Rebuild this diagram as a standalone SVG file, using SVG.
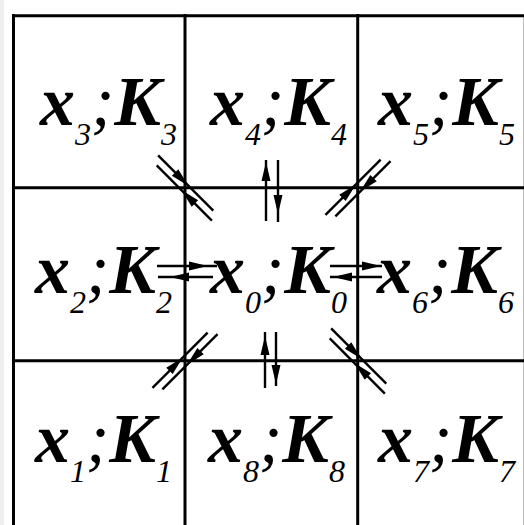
<svg xmlns="http://www.w3.org/2000/svg" xmlns:xlink="http://www.w3.org/1999/xlink" width="524" height="525" viewBox="0 0 524 525">
<style>
.grid{stroke:#000;stroke-width:3;fill:none}
.a{stroke:#000;stroke-width:2.4;fill:none}
.t{font-family:"Liberation Serif","Times New Roman",serif;font-weight:bold;font-style:italic;font-size:70px;fill:#000}
.s{font-size:32px;font-weight:normal}
.p{font-weight:normal}
</style>
<defs>
<path id="h" d="M0,0 L-19,-4.5 L-19,4.5 Z" fill="#000"/>
<g id="diag">
<line class="a" x1="-42" y1="-4" x2="36" y2="-4"/>
<use xlink:href="#h" href="#h" transform="translate(1,-4)"/>
<line class="a" x1="-36" y1="4" x2="42" y2="4"/>
<use xlink:href="#h" href="#h" transform="translate(-1,4) rotate(180)"/>
</g>
</defs>
<rect x="0" y="0" width="524" height="525" fill="#fff"/>
<rect x="0" y="0" width="4" height="525" fill="#eeeeee"/>
<line x1="523.5" y1="16" x2="523.5" y2="525" stroke="#bbbbbb" stroke-width="1"/>
<g id="grid">
<line class="grid" x1="12" y1="15.7" x2="524" y2="15.7"/>
<line class="grid" x1="13.5" y1="14" x2="13.5" y2="525"/>
<line class="grid" x1="185" y1="14" x2="185" y2="525"/>
<line class="grid" x1="357.7" y1="14" x2="357.7" y2="525"/>
<line class="grid" x1="12" y1="187.7" x2="524" y2="187.7"/>
<line class="grid" x1="12" y1="360.7" x2="524" y2="360.7"/>
</g>
<g id="n3"><text class="t" x="40" y="125">x<tspan class="s" dy="20">3</tspan><tspan class="p" dy="-20">;</tspan>K<tspan class="s" dy="20">3</tspan></text></g>
<g id="n4"><text class="t" x="210" y="125">x<tspan class="s" dy="20">4</tspan><tspan class="p" dy="-20">;</tspan>K<tspan class="s" dy="20">4</tspan></text></g>
<g id="n5"><text class="t" x="378" y="125">x<tspan class="s" dy="20">5</tspan><tspan class="p" dy="-20">;</tspan>K<tspan class="s" dy="20">5</tspan></text></g>
<g id="n2"><text class="t" x="35" y="293">x<tspan class="s" dy="20">2</tspan><tspan class="p" dy="-20">;</tspan>K<tspan class="s" dy="20">2</tspan></text></g>
<g id="n0"><text class="t" x="210" y="293">x<tspan class="s" dy="20">0</tspan><tspan class="p" dy="-20">;</tspan>K<tspan class="s" dy="20">0</tspan></text></g>
<g id="n6"><text class="t" x="377" y="293">x<tspan class="s" dy="20">6</tspan><tspan class="p" dy="-20">;</tspan>K<tspan class="s" dy="20">6</tspan></text></g>
<g id="n1"><text class="t" x="35" y="462">x<tspan class="s" dy="20">1</tspan><tspan class="p" dy="-20">;</tspan>K<tspan class="s" dy="20">1</tspan></text></g>
<g id="n8"><text class="t" x="208" y="462">x<tspan class="s" dy="20">8</tspan><tspan class="p" dy="-20">;</tspan>K<tspan class="s" dy="20">8</tspan></text></g>
<g id="n7"><text class="t" x="378" y="462">x<tspan class="s" dy="20">7</tspan><tspan class="p" dy="-20">;</tspan>K<tspan class="s" dy="20">7</tspan></text></g>
<g id="connectors">
<line class="a" x1="157" y1="266" x2="217" y2="266"/>
<use xlink:href="#h" href="#h" transform="translate(208,266)"/>
<line class="a" x1="158" y1="277" x2="213" y2="277"/>
<use xlink:href="#h" href="#h" transform="translate(170,277) rotate(180)"/>
<line class="a" x1="330" y1="266" x2="382" y2="266"/>
<use xlink:href="#h" href="#h" transform="translate(381,266)"/>
<line class="a" x1="330" y1="277" x2="382" y2="277"/>
<use xlink:href="#h" href="#h" transform="translate(333,277) rotate(180)"/>
<line class="a" x1="266" y1="160" x2="266" y2="221"/>
<use xlink:href="#h" href="#h" transform="translate(266,162) rotate(-90)"/>
<line class="a" x1="278" y1="160" x2="278" y2="222"/>
<use xlink:href="#h" href="#h" transform="translate(278,214) rotate(90)"/>
<line class="a" x1="265" y1="332" x2="265" y2="388"/>
<use xlink:href="#h" href="#h" transform="translate(265,336) rotate(-90)"/>
<line class="a" x1="276" y1="332" x2="276" y2="386"/>
<use xlink:href="#h" href="#h" transform="translate(276,384) rotate(90)"/>
<use xlink:href="#diag" href="#diag" transform="translate(185,188) rotate(45)"/>
<use xlink:href="#diag" href="#diag" transform="translate(358,188) rotate(135)"/>
<use xlink:href="#diag" href="#diag" transform="translate(185,361) rotate(-45)"/>
<use xlink:href="#diag" href="#diag" transform="translate(358,361) rotate(-135)"/>
</g>
</svg>
